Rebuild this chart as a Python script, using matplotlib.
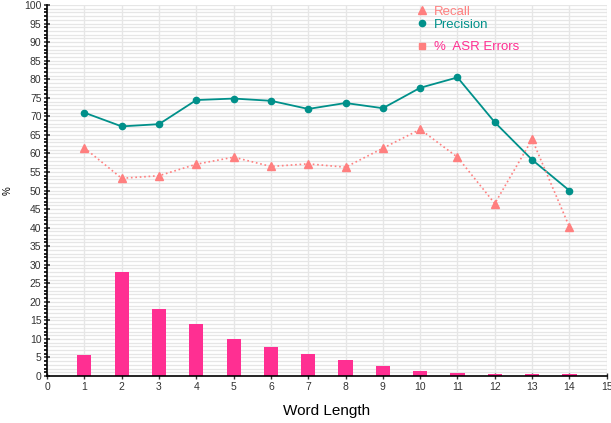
import matplotlib.pyplot as plt
from matplotlib.lines import Line2D
from matplotlib.ticker import MultipleLocator
import numpy as np

# datos
longitud = [1, 2, 3, 4, 5, 6, 7, 8, 9, 10, 11, 12, 13, 14]
recall = [61.5, 53.3, 54.0, 57.1, 59.0, 56.5, 57.2, 56.3, 61.4, 66.5, 59.0, 46.5, 63.8, 40.2]
precision = [71.0, 67.3, 67.9, 74.4, 74.8, 74.2, 72.0, 73.6, 72.2, 77.7, 80.5, 68.4, 58.3, 50.0]
errores_asr = [5.7, 28.0, 18.0, 14.0, 10.0, 7.8, 5.9, 4.3, 2.7, 1.3, 0.7, 0.45, 0.45, 0.45]

color_recall = '#FF7F7F'
color_prec = '#00908A'
color_asr = '#FF2F92'

plt.rcParams['font.family'] = ['Liberation Sans', 'DejaVu Sans']

fig = plt.figure(figsize=(6.11, 4.23), dpi=100)
ax = fig.add_axes([0.077, 0.111, 0.916, 0.877])

ax.bar(longitud, errores_asr, width=0.38, color=color_asr, zorder=2)
ax.plot(longitud, precision, color=color_prec, lw=1.3, marker='o', ms=4.5, zorder=3)
ax.plot(longitud, recall, color=color_recall, lw=1.2, ls=':', marker='^', ms=5.5, zorder=3)

ax.set_xlim(0, 15)
ax.set_ylim(0, 100)
ax.xaxis.set_major_locator(MultipleLocator(1))
ax.yaxis.set_major_locator(MultipleLocator(5))
ax.yaxis.set_minor_locator(MultipleLocator(1))

ax.grid(axis='x', which='major', color='#e6e6e6', lw=1, zorder=0)
ax.grid(axis='y', which='both', color='#e6e6e6', lw=0.9, zorder=0)
ax.set_axisbelow(True)

for lado in ['top', 'right']:
    ax.spines[lado].set_visible(False)
ax.spines['left'].set_linewidth(1.2)
ax.spines['bottom'].set_linewidth(1.2)

ax.tick_params(axis='y', which='major', direction='inout', length=4, width=1.2, pad=2,
               labelsize=7.5, colors='#333333')
ax.tick_params(axis='y', which='minor', direction='out', length=2, width=1.2, color='black')
ax.tick_params(axis='x', which='major', direction='inout', length=5, width=1, pad=2,
               labelsize=7.5, colors='#333333')

ax.set_xlabel('Word Length', fontsize=11)
ax.xaxis.set_label_coords(0.5, -0.075)
ax.set_ylabel('%', fontsize=7)
ax.yaxis.set_label_coords(-0.062, 0.5)

h1 = [Line2D([], [], ls='none', marker='^', ms=6, color=color_recall),
      Line2D([], [], ls='none', marker='o', ms=4.5, color=color_prec)]
leg1 = ax.legend(h1, ['Recall', 'Precision'], loc='upper left', bbox_to_anchor=(0.64, 1.03),
                 frameon=False, fontsize=9.5, handlelength=0.8, handletextpad=0.5,
                 labelspacing=0.05, labelcolor=[color_recall, color_prec])
ax.add_artist(leg1)
h2 = [Line2D([], [], ls='none', marker='s', ms=5, color=color_recall)]
ax.legend(h2, ['%  ASR Errors'], loc='upper left', bbox_to_anchor=(0.64, 0.935),
          frameon=False, fontsize=9.5, handlelength=0.8, handletextpad=0.5,
          labelcolor=[color_asr])

plt.savefig('out.png', dpi=100)
